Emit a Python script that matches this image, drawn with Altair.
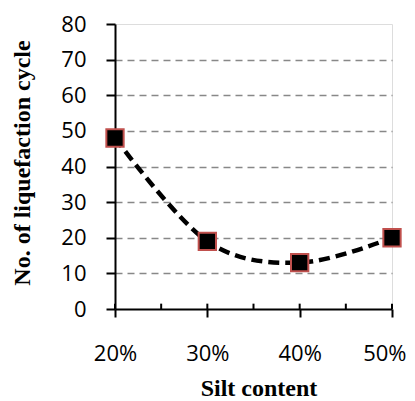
import altair as alt
import pandas as pd

# data
silt = [0.20, 0.30, 0.40, 0.50]
cycles = [48, 19, 13, 20]
x_major = [0.20, 0.30, 0.40, 0.50]
x_all = [0.20, 0.25, 0.30, 0.35, 0.40, 0.45, 0.50]
y_ticks = [0, 10, 20, 30, 40, 50, 60, 70, 80]

df = pd.DataFrame({"silt": silt, "cycles": cycles})
df_ticks = pd.DataFrame({"pos": x_all})

W, H = 277, 285
LABEL_FONT = "Open Sans"
TITLE_FONT = "Liberation Serif"

xscale = alt.Scale(domain=[0.2, 0.5], nice=False, zero=False)
yscale = alt.Scale(domain=[0, 80], nice=False)

x_axis = alt.Axis(
    values=x_major, format=".0%", orient="bottom", grid=False,
    tickSize=8, tickWidth=2, tickColor="black", labelFlush=False,
    labelAlign=alt.condition("datum.value >= 0.49", alt.value("right"), alt.value("center")),
    labelOffset=alt.condition("datum.value >= 0.49", alt.value(14), alt.value(0)),
    domainColor="black", domainWidth=2,
    labelFont=LABEL_FONT, labelFontSize=22, labelColor="black", labelPadding=26,
    title="Silt content", titleFont=TITLE_FONT, titleFontSize=24, titleFontWeight="bold",
    titleColor="black", titleX=W / 2 + 5, titleY=79, titleBaseline="middle",
)

y_axis = alt.Axis(
    values=y_ticks, tickCount=9, grid=True,
    gridColor="#888888", gridDash=[7, 5], gridWidth=1.5,
    gridOpacity=alt.condition("datum.value == 0 || datum.value == 80", alt.value(0), alt.value(1)),
    tickSize=9, tickWidth=2, tickColor="black",
    domainColor="black", domainWidth=2, labelOverlap=False,
    labelFont=LABEL_FONT, labelFontSize=22, labelColor="black", labelPadding=20,
    title="No. of liquefaction cycle", titleFont=TITLE_FONT, titleFontSize=24,
    titleFontWeight="bold", titleColor="black", titleAngle=-90,
    titleX=-93, titleY=H / 2 - 4, titleBaseline="middle", titleAlign="center",
)

base = alt.Chart(df)

line = base.mark_line(
    interpolate="cardinal", tension=0, color="black", strokeWidth=4.5, strokeDash=[11, 6]
).encode(
    x=alt.X("silt:Q", scale=xscale, axis=x_axis),
    y=alt.Y("cycles:Q", scale=yscale, axis=y_axis),
)

points = base.mark_square(
    size=300, fill="black", stroke="#c0504d", strokeWidth=2, opacity=1
).encode(
    x=alt.X("silt:Q", scale=xscale, axis=x_axis),
    y=alt.Y("cycles:Q", scale=yscale, axis=y_axis),
)

# inner (upward) tick marks along the x axis
minor = alt.Chart(df_ticks).mark_rule(color="black", strokeWidth=2).encode(
    x=alt.X("pos:Q", scale=xscale, axis=x_axis),
    y=alt.datum(0, scale=yscale),
    y2=alt.datum(1.5),
)

chart = (
    alt.layer(line, minor, points)
    .properties(
        width=W, height=H,
        autosize=alt.AutoSizeParams(type="none"),
        padding={"left": 107, "top": 16, "right": 15, "bottom": 95},
    )
    .configure_view(stroke="black", strokeWidth=1.5)
    .configure(background="white")
)

chart.save("out.html", embed_options={"renderer": "svg", "actions": False})
